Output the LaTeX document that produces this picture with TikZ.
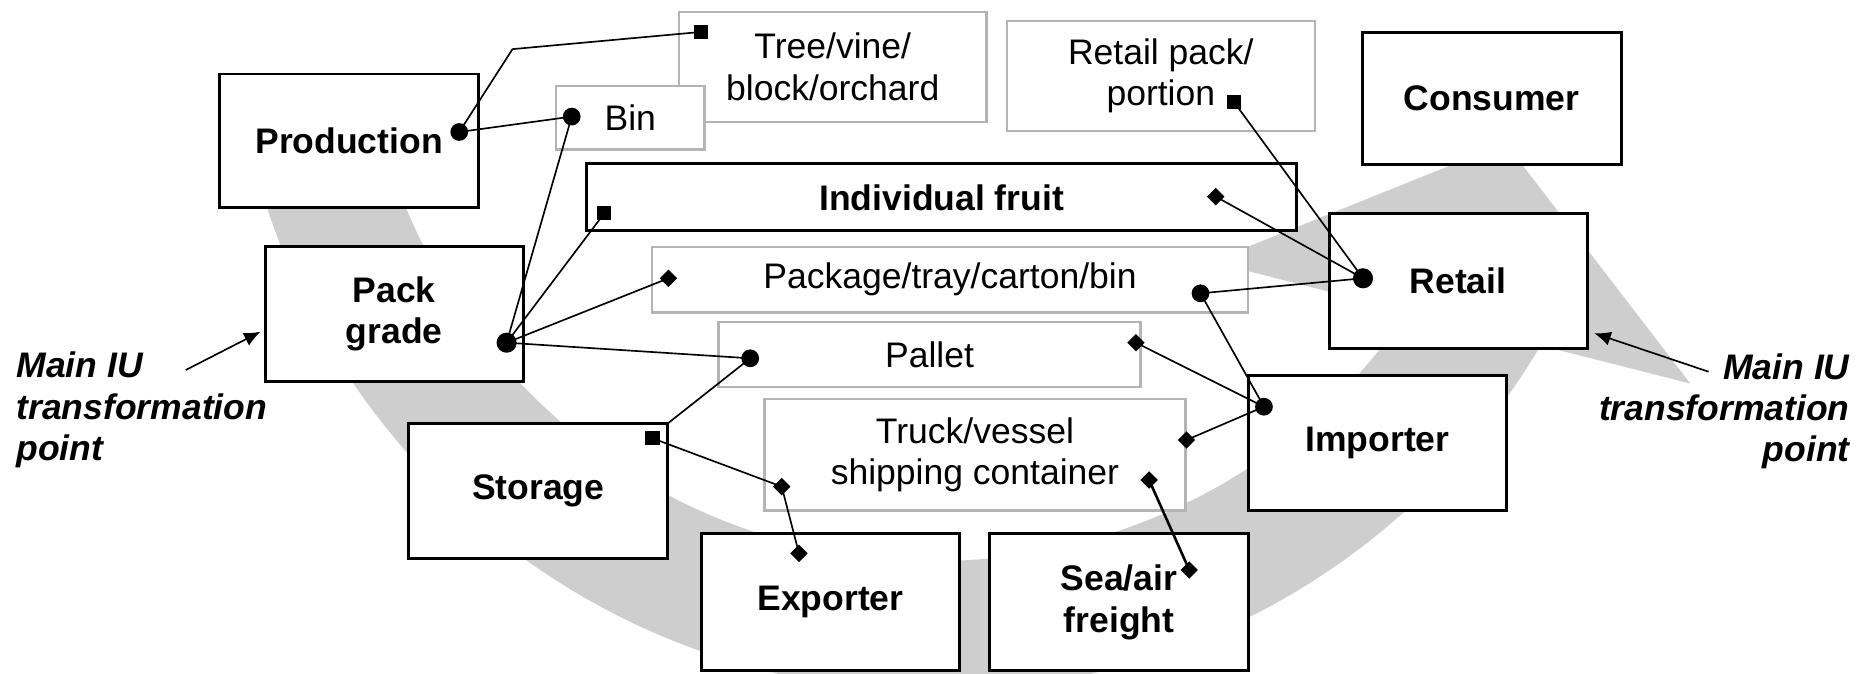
\documentclass[tikz,border=0pt]{standalone}
\usepackage{fontspec}
\setmainfont{Liberation Sans}
\usetikzlibrary{shapes.geometric,arrows.meta}
\definecolor{bandgray}{RGB}{206,206,206}
\definecolor{boxgray}{RGB}{180,180,180}
\begin{document}
\begin{tikzpicture}[x=0.5pt,y=-0.5pt,
  blackbox/.style={draw=black, line width=1.25pt, fill=white, align=center, inner sep=0pt, outer sep=0pt, font=\fontsize{15}{17.5}\selectfont\bfseries},
  graybox/.style={draw=boxgray, line width=1pt, fill=white, align=center, inner sep=0pt, outer sep=0pt, font=\fontsize{15}{17.5}\selectfont},
  dotm/.style={circle, fill=black, inner sep=0pt, minimum size=7.5pt},
  bigdotm/.style={circle, fill=black, inner sep=0pt, minimum size=8.5pt},
  sqm/.style={rectangle, fill=black, inner sep=0pt, minimum size=6pt},
  dim/.style={diamond, fill=black, inner sep=0pt, minimum size=7.5pt},
  link/.style={line width=0.7pt, draw=black},
  thicklink/.style={line width=1.1pt, draw=black},
  iuarrow/.style={line width=0.7pt, draw=black, -{Latex[length=7pt,width=6pt]}},
  iulabel/.style={inner sep=0pt, font=\fontsize{15}{17.5}\selectfont\bfseries\itshape}]
\useasboundingbox (0,0) rectangle (1568,569);

% big grey circular arrow
\fill[bandgray] ([shift={(790,-10)}]170:594) arc[start angle=170, end angle=30.55, radius=594]
  -- (1428,324) -- (1272,121) -- (1023,221)
  -- ([shift={(790,-10)}]34.4:484) arc[start angle=34.4, end angle=170, radius=484] -- cycle;

% grey (unit) boxes
\node[graybox, minimum width=130pt, minimum height=46.45pt] (tree) at (703.5,56.35) {Tree/vine/\\block/orchard};
\node[graybox, minimum width=62.8pt, minimum height=26.75pt] (bin) at (532.5,99.45) {Bin};
\node[graybox, minimum width=130pt, minimum height=46.6pt] (rpack) at (980.7,64.1) {Retail pack/\\portion};
\node[graybox, minimum width=251.8pt, minimum height=27.75pt] (package) at (802.6,236.15) {Package/tray/carton/bin};
\node[graybox, minimum width=178.25pt, minimum height=27.7pt] (pallet) at (785.25,299.5) {Pallet};
\node[graybox, minimum width=177.75pt, minimum height=47.2pt] (truck) at (823.65,384.2) {Truck/vessel\\shipping container};

% black (stage) boxes
\node[blackbox, minimum width=109.4pt, minimum height=56.3pt] (prod) at (294.9,118.8) {Production};
\node[blackbox, minimum width=109pt, minimum height=57pt] (pack) at (333,265.4) {Pack\\grade};
\node[blackbox, minimum width=109.55pt, minimum height=57.05pt] (storage) at (454.75,414.65) {Storage};
\node[blackbox, minimum width=109.15pt, minimum height=57.75pt] (exporter) at (701.65,508.85) {Exporter};
\node[blackbox, minimum width=109.4pt, minimum height=57.75pt] (sea) at (945.4,508.85) {Sea/air\\freight};
\node[blackbox, minimum width=109pt, minimum height=56.75pt] (importer) at (1163.7,374.15) {Importer};
\node[blackbox, minimum width=109pt, minimum height=57.05pt] (retail) at (1231.8,237.25) {Retail};
\node[blackbox, minimum width=109.4pt, minimum height=55.75pt] (consumer) at (1260.1,83.05) {Consumer};
\node[blackbox, minimum width=299.95pt, minimum height=28.2pt] (fruit) at (795.55,166.7) {Individual fruit};

% link markers
\node[dotm] (m1) at (388,111.5) {};
\node[sqm] (m2) at (592,27) {};
\coordinate (bend) at (433,41.5);
\node[dotm] (m3) at (483,98.5) {};
\node[bigdotm] (m4) at (428,289.5) {};
\node[sqm] (m5) at (510.5,180.2) {};
\node[dim] (m6) at (564.7,235.1) {};
\node[dotm] (m7) at (633.8,302.7) {};
\node[sqm] (m8) at (551.3,370.3) {};
\node[dim] (m9) at (660.4,411.1) {};
\node[dim] (m10) at (675,467.5) {};
\node[dim] (m11) at (959.7,289.5) {};
\node[dotm] (m12) at (1014.2,247.8) {};
\node[dim] (m13) at (1027.1,166.1) {};
\node[sqm] (m14) at (1042.3,85.9) {};
\node[bigdotm] (m15) at (1151.5,235.1) {};
\node[dotm] (m16) at (1067.8,343.6) {};
\node[dim] (m17) at (1002.4,371.7) {};
\node[dim] (m18) at (970.8,405.5) {};
\node[dim] (m19) at (1004.7,481.5) {};

% links
\draw[link] (m1.center) -- (bend) -- (m2.center);
\draw[link] (m1.center) -- (m3.center);
\draw[link] (m4.center) -- (m3.center);
\draw[link] (m4.center) -- (m5.center);
\draw[link] (m4.center) -- (m6.center);
\draw[link] (m4.center) -- (m7.center);
\draw[link] (m7.center) -- (storage.north east);
\draw[link] (m8.center) -- (m9.center);
\draw[link] (m9.center) -- (m10.center);
\draw[link] (m17.center) -- (m16.center);
\draw[thicklink] (m18.center) -- (m19.center);
\draw[link] (m11.center) -- (m16.center);
\draw[link] (m12.center) -- (m16.center);
\draw[link] (m12.center) -- (m15.center);
\draw[link] (m13.center) -- (m15.center);
\draw[link] (m14.center) -- (m15.center);

% main IU transformation points
\node[iulabel, align=left, anchor=west] (iuL) at (13.6,346.5) {Main IU\\transformation\\point};
\node[iulabel, align=right, anchor=east] (iuR) at (1563,347.5) {Main IU\\transformation\\point};
\coordinate (iuLt) at (156.9,312.6);
\coordinate (iuLh) at (220.2,280.2);
\coordinate (iuRt) at (1443.4,314);
\coordinate (iuRh) at (1346.8,281.5);
\draw[iuarrow] (iuLt) -- (iuLh);
\draw[iuarrow] (iuRt) -- (iuRh);
\end{tikzpicture}
\end{document}
